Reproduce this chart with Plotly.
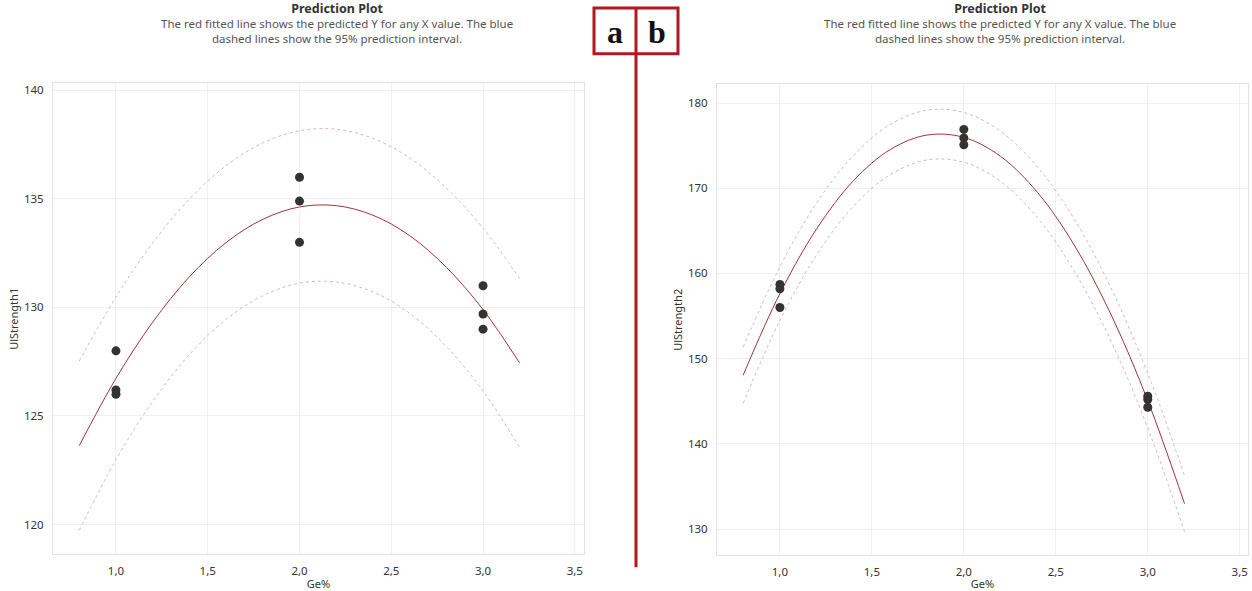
import plotly.graph_objects as go

# ---------------- data ----------------
ge_points = [1.0, 1.0, 1.0, 2.0, 2.0, 2.0, 3.0, 3.0, 3.0]
strength1_points = [128.0, 126.2, 126.0, 136.0, 134.9, 133.0, 131.0, 129.7, 129.0]
strength2_points = [158.7, 158.2, 156.0, 176.9, 175.9, 175.1, 145.6, 145.2, 144.3]

curve_x = [0.8, 1.0, 1.2, 1.4, 1.6, 1.8, 2.0, 2.2, 2.4, 2.6, 2.8, 3.0, 3.2]
fit1 = [123.63, 126.73, 129.32, 131.41, 132.99, 134.06, 134.63, 134.69, 134.25, 133.31, 131.85, 129.90, 127.43]
upper1 = [127.53, 130.48, 132.97, 134.99, 136.53, 137.58, 138.14, 138.21, 137.79, 136.89, 135.50, 133.65, 131.33]
lower1 = [119.73, 122.98, 125.67, 127.83, 129.45, 130.54, 131.12, 131.17, 130.71, 129.73, 128.20, 126.15, 123.53]

fit2 = [148.05, 157.63, 165.24, 170.88, 174.54, 176.24, 175.97, 173.73, 169.52, 163.34, 155.19, 145.07, 132.98]
upper2 = [151.35, 160.78, 168.29, 173.86, 177.48, 179.16, 178.89, 176.67, 172.50, 166.39, 158.31, 148.27, 136.28]
lower2 = [144.75, 154.48, 162.19, 167.90, 171.60, 173.32, 173.05, 170.79, 166.54, 160.29, 152.07, 141.87, 129.68]

x_ticks = [1.0, 1.5, 2.0, 2.5, 3.0, 3.5]
y1_ticks = [120, 125, 130, 135, 140]
y2_ticks = [130, 140, 150, 160, 170, 180]

title_text = "Prediction Plot"
subtitle_lines = ["The red fitted line shows the predicted Y for any X value. The blue",
                  "dashed lines show the 95% prediction interval."]

# ---------------- styling ----------------
W, H = 1252, 591
FONT = "Noto Sans, Open Sans, sans-serif"
FIT_COLOR = "#a0323e"
PI_COLOR = "rgba(205,170,185,0.85)"
PT_COLOR = "#333333"
GRID = "#f0f0f0"
FRAME = "#e2e2e2"
MARK_RED = "#b01822"

def px(x):
    return x / W

def py(y):
    return 1 - y / H

fig = go.Figure()

panels = [
    (strength1_points, fit1, upper1, lower1, "x", "y"),
    (strength2_points, fit2, upper2, lower2, "x2", "y2"),
]
for pts, fit, up, lo, xa, ya in panels:
    fig.add_trace(go.Scatter(x=curve_x, y=up, mode="lines", xaxis=xa, yaxis=ya,
                             line=dict(color=PI_COLOR, width=1, dash="dot", shape="spline"),
                             showlegend=False, hoverinfo="skip"))
    fig.add_trace(go.Scatter(x=curve_x, y=lo, mode="lines", xaxis=xa, yaxis=ya,
                             line=dict(color=PI_COLOR, width=1, dash="dot", shape="spline"),
                             showlegend=False, hoverinfo="skip"))
    fig.add_trace(go.Scatter(x=curve_x, y=fit, mode="lines", xaxis=xa, yaxis=ya,
                             line=dict(color=FIT_COLOR, width=1, shape="spline"),
                             showlegend=False))
    fig.add_trace(go.Scatter(x=ge_points, y=pts, mode="markers", xaxis=xa, yaxis=ya,
                             marker=dict(color=PT_COLOR, size=9),
                             showlegend=False))

axis_common = dict(showgrid=True, gridcolor=GRID, gridwidth=1, zeroline=False,
                   showline=True, linecolor=FRAME, linewidth=1, mirror=True,
                   ticks="", tickfont=dict(family=FONT, size=11.5, color="#333333"),
                   ticklabelstandoff=6)

fig.update_layout(
    width=W, height=H,
    margin=dict(l=0, r=0, t=0, b=0),
    paper_bgcolor="white", plot_bgcolor="white",
    separators=", ",
    font=dict(family=FONT, size=11, color="#333333"),
    xaxis=dict(domain=[px(53), px(584)], range=[0.657, 3.55], anchor="y",
               tickvals=x_ticks, tickformat=".1f",
               title=dict(text="Ge%", standoff=4, font=dict(size=11)), **axis_common),
    yaxis=dict(domain=[py(557), py(83)], range=[118.63, 140.32], anchor="x",
               tickvals=y1_ticks,
               title=dict(text="UlStrength1", standoff=3, font=dict(size=11)), **axis_common),
    xaxis2=dict(domain=[px(717), px(1248)], range=[0.658, 3.545], anchor="y2",
                tickvals=x_ticks, tickformat=".1f",
                title=dict(text="Ge%", standoff=4, font=dict(size=11)), **axis_common),
    yaxis2=dict(domain=[py(558), py(84)], range=[126.93, 182.18], anchor="x2",
                tickvals=y2_ticks,
                title=dict(text="UlStrength2", standoff=3, font=dict(size=11)), **axis_common),
)

# titles (title + two description lines in one block)
header_html = ("<span style='font-size:12.5px;font-weight:bold;color:#333333'>" + title_text + "</span><br>"
               + "<br>".join(subtitle_lines))
for cx in (337, 1000):
    fig.add_annotation(x=px(cx), y=py(22), xref="paper", yref="paper",
                       text=header_html, showarrow=False, align="center",
                       font=dict(family=FONT, size=11.5, color="#555555"),
                       xanchor="center", yanchor="middle")

# a | b marker boxes and divider
fig.add_shape(type="rect", xref="paper", yref="paper",
              x0=px(594), x1=px(678), y0=py(53), y1=py(7),
              line=dict(color=MARK_RED, width=3), fillcolor="rgba(0,0,0,0)")
fig.add_shape(type="line", xref="paper", yref="paper",
              x0=px(636), x1=px(636), y0=py(570), y1=py(7),
              line=dict(color=MARK_RED, width=3))
for letter, cx in (("a", 615), ("b", 657)):
    fig.add_annotation(x=px(cx), y=py(31), xref="paper", yref="paper",
                       text="<b>" + letter + "</b>", showarrow=False,
                       font=dict(family="Liberation Serif, Times New Roman, serif", size=32, color="#111111"),
                       xanchor="center", yanchor="middle")

fig.write_html("out.html", config={"displayModeBar": False},
               post_script="document.body.style.margin='0px';")
